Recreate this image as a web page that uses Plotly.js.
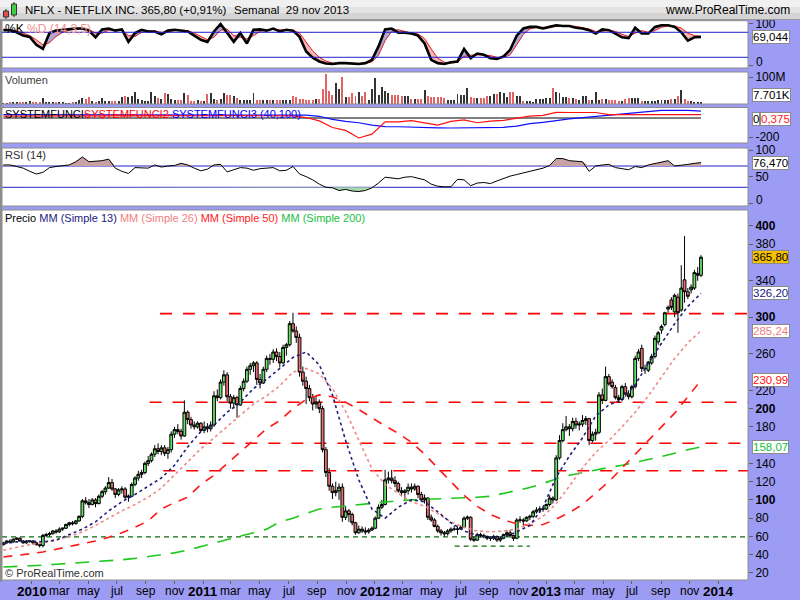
<!DOCTYPE html>
<html>
<head>
<meta charset="utf-8">
<script src="https://cdn.plot.ly/plotly-3.0.1.min.js"></script>
<style>
html,body{margin:0;padding:0;background:#9c9cf4;overflow:hidden}
#chart{width:800px;height:600px}
</style>
</head>
<body>
<div id="chart"></div>
<script>
// ---------- weekly price data (NFLX, from 2009-11-02, one candle per week) ----------
const open = [51,53,55,54,57,58,55,53,55,
55,53,51,50,61,62,63,66,65,68,69,73,75,74,77,82,99,97,95,100,96,104,109,113,119,112,106,111,112,103,104,117,124,128,130,140,143,150,156,153,157,151,155,172,177,175,170,196,188,182,180,184,
176,180,178,182,214,212,229,237,213,206,212,204,222,230,243,247,250,232,228,243,255,254,262,257,250,267,270,293,285,278,240,230,222,212,205,207,200,155,130,115,108,110,114,81,88,84,75,64,68,66,65,67,
69,80,92,95,122,124,121,118,110,108,110,114,112,115,106,100,102,81,78,71,66,64,63,66,68,68,68,70,80,81,57,56,62,61,60,58,58,60,56,58,62,64,61,58,78,78,77,81,82,87,89,90,90,
95,102,100,146,165,177,180,178,186,182,183,187,189,165,172,174,215,209,235,229,223,212,210,224,216,213,224,255,266,244,242,250,257,273,286,292,309,319,306,322,308,341,328,330,332,346,346];
const high = [54,56,57,58,59,59,56,56,56,
56,54,52,63,64,65,67,68,70,70,74,76,77,78,83,101,103,101,102,102,106,111,115,125,123,113,113,115,114,106,119,126,132,133,142,148,152,160,162,160,160,158,175,180,183,178,209,198,191,186,186,185,
186,184,186,219,221,232,242,240,216,215,214,225,233,246,250,252,252,238,246,258,260,265,266,262,270,272,296,305,290,282,246,235,226,216,214,210,203,158,135,118,120,118,118,93,90,86,76,72,71,70,69,71,
82,95,100,133,131,133,126,120,114,112,118,118,118,116,109,106,103,84,80,73,68,66,68,70,72,71,72,82,83,82,60,64,64,63,61,60,62,61,59,63,67,67,62,80,82,80,82,84,89,92,93,92,96,
105,104,149,171,184,192,183,190,190,186,193,192,190,175,178,218,222,246,238,232,226,215,226,228,220,226,258,265,270,248,252,260,280,285,292,306,313,322,326,326,357,389,332,336,352,355,368];
const low = [50,52,53,53,56,54,52,52,53,
51,50,48,48,59,60,62,63,64,66,68,71,72,73,76,80,95,91,94,92,95,102,106,112,110,102,104,107,100,98,103,115,121,124,128,137,141,147,150,149,148,145,152,168,172,166,169,183,178,177,178,174,
173,174,175,180,208,210,225,208,200,200,190,203,219,228,237,240,226,222,227,240,248,250,252,245,249,258,268,283,272,235,225,205,208,198,200,195,152,125,110,101,104,100,76,78,76,72,62,63,64,62,63,66,
68,79,90,94,118,118,114,108,104,100,106,108,110,102,98,96,78,76,70,64,61,60,61,64,66,62,67,69,78,55,54,55,59,58,56,55,56,54,54,57,60,60,55,57,75,72,76,78,80,85,86,87,89,
93,96,99,144,163,175,170,175,178,176,180,182,160,163,165,172,205,208,225,222,210,206,208,213,210,211,222,252,240,238,240,248,255,270,282,290,305,308,300,283,306,316,320,326,330,340,344];
const close = [53,55,54,57,58,55,53,55,55,
53,51,50,61,62,63,66,65,68,69,73,75,74,77,82,99,97,95,100,96,104,109,113,119,112,106,111,112,103,104,117,124,128,130,140,143,150,156,153,157,151,155,172,177,175,170,196,188,182,180,184,176,
180,178,182,214,212,229,237,213,206,212,204,222,230,243,247,250,232,228,243,255,254,262,257,250,267,270,293,285,278,240,230,222,212,205,207,200,155,130,115,108,110,114,81,88,84,75,64,68,66,65,67,69,
80,92,95,122,124,121,118,110,108,110,114,112,115,106,100,102,81,78,71,66,64,63,66,68,68,68,70,80,81,57,56,62,61,60,58,58,60,56,58,62,64,61,58,78,78,77,81,82,87,89,90,90,95,
102,100,146,165,177,180,178,186,182,183,187,189,165,172,174,215,209,235,227,224,212,210,224,216,213,224,255,262,244,244,251,257,277,283,290,305,311,311,324,305,332,328,323,333,349,348,365.8];
// weekly volume, millions
const volume = [5,5,6,7,6,6,7,8,12,7,8,6,22,7,6,6,6,8,9,5,5,6,6,14,23,17,27,10,8,12,22,12,12,11,10,11,26,28,27,30,
46,18,16,11,10,43,30,22,18,40,36,18,15,15,15,42,35,12,11,13,12,11,36,40,17,15,18,42,35,32,30,23,15,14,15,15,40,15,14,13,
14,15,16,15,15,13,14,16,30,25,18,17,15,14,15,20,20,54,110,48,35,77,56,99,27,25,40,30,46,30,43,15,56,95,35,64,48,40,35,33,
33,31,31,30,18,18,18,18,52,30,27,27,27,27,22,15,15,15,36,33,33,58,25,23,23,23,23,31,31,36,36,46,40,25,43,43,31,31,12,12,
12,9,18,18,18,23,23,58,46,40,27,27,21,21,18,15,31,31,15,15,43,15,18,18,15,15,15,12,12,20,21,21,21,21,12,12,12,12,12,15,
15,15,15,18,18,30,52,18,12,12,9,8,7.7];
// indicators, one value every 2 weeks
const stochK = [85,85,80,72,69,50,40,78,84,86,87,89,89,84,68,87,89,84,87,57,78,86,82,82,75,84,86,84,82,72,
62,57,82,100,79,57,78,53,86,87,84,89,82,86,84,69,34,19,10,5,4,6,6,5,4,6,14,46,87,89,
79,79,77,72,53,14,6,4,8,10,40,18,29,26,18,16,22,38,72,89,93,93,89,93,97,95,95,91,89,85,
77,87,85,77,68,66,91,77,77,93,97,97,93,80,60,68,69.04];
const stochD = [88,86,84,78,72,62,50,55,70,80,85,87,88,87,78,78,85,87,86,72,70,80,83,83,80,80,84,85,84,78,
70,62,68,85,88,72,68,64,72,82,86,87,86,85,85,78,55,35,20,11,6,5,6,6,5,5,9,25,60,82,
86,82,78,76,65,40,18,8,6,8,22,25,26,26,24,20,19,26,50,75,88,92,92,92,94,95,95,94,91,88,
82,82,85,82,75,70,78,84,80,84,92,95,95,90,78,72,70];
const rsi = [72,72,69,66,60,55,58,67,69,70,72,78,87,78,79,80,83,66,60,56,67,66,66,72,68,70,71,75,72,66,
61,64,72,73,59,63,67,66,62,65,66,67,61,62,69,55,50,44,36,30,29,24,26,23,22,24,29,38,49,47,
46,49,50,47,44,36,32,31,31,45,44,33,38,39,37,42,47,51,54,57,59,62,66,71,84,84,80,79,78,60,
70,72,73,67,65,63,69,67,72,75,78,80,70,71,73,75,76.47];
// one value every 4 weeks
const sysRed = [20,20,20,18,18,20,20,18,17,18,20,20,22,22,22,22,24,24,25,25,25,25,22,5,-30,-100,-130,-210,-170,-40,
-40,-28,-50,-75,-35,-20,-50,-33,-25,-5,20,28,60,58,55,58,35,35,35,35,35,32,28,35];
const sysBlue = [35,35,35,35,35,35,35,35,35,35,35,35,35,35,35,35,35,35,35,35,35,35,35,30,18,-15,-35,-50,-75,-90,
-92,-98,-100,-103,-105,-103,-100,-100,-98,-85,-60,-45,-25,-10,5,18,30,45,60,72,80,80,80,72];
const sma13 = [52,54,55,54,56,62,68,76,88,98,106,115,124,138,158,175,182,196,207,222,232,244,256,262,248,215,165,122,90,80,
92,100,98,87,75,66,61,59,59,65,72,92,125,148,168,192,204,210,226,250,271,293,312,326.2];
const sma26 = [45,48,51,53,56,60,65,72,80,88,95,103,113,127,141,156,168,180,193,205,214,225,240,244,238,222,197,165,134,117,
107,98,93,85,76,70,66,65,66,68,74,82,96,115,135,152,165,180,196,214,235,255,272,285.24];
const sma50 = [37.5,39,41,43,46,49,52,55,59,64,70,77,90,97,103,117,127,140,153,166,178,187,200,210,215,213,207,199,190,181,
173,163,150,135,120,105,93,84,78,74,72,73,79,86,95,107,120,135,150,165,180,195,213,230.99];
const sma200 = [26.5,27,27.6,28.5,29.5,30.5,31.2,32,33,34.5,36,38,40,42,45,49,53,57,60.5,64,68,76,80,85,90,92,93.5,95,96.5,98,
99,100,100.5,101,102,102.5,103,104,107,110,113.5,118,123,127,130,132.5,135.5,138,141,144,147.5,151,155,158.07];
// horizontal levels
const resLevels = [304, 207, 162, 132];
const resStart = ['2010-10-01', '2010-09-09', '2010-11-05', '2010-10-08'];
const supLevels = [59.5, 49.5];
const supStart = ['2009-10-30', '2012-06-19'];
const supEnd = ['2014-03-05', '2012-11-26'];
// axis labels
const xTickVals = ['2010-01-01','2010-03-01','2010-05-01','2010-07-01','2010-09-01','2010-11-01',
'2011-01-01','2011-03-01','2011-05-01','2011-07-01','2011-09-01','2011-11-01',
'2012-01-01','2012-03-01','2012-05-01','2012-07-01','2012-09-01','2012-11-01',
'2013-01-01','2013-03-01','2013-05-01','2013-07-01','2013-09-01','2013-11-01','2014-01-01'];
const xTickText = ['2010','mar','may','jul','sep','nov','2011','mar','may','jul','sep','nov',
'2012','mar','may','jul','sep','nov','2013','mar','may','jul','sep','nov','2014'];
// price labels left visible beside the value boxes
const priceTicks = [20,40,60,80,100,120,140,180,200,220,260,300,340,380,400];

// ---------- build ----------
const F = 'Liberation Sans, Arial, sans-serif';
const H = 600, W = 800;
const py = v => 1 - v / H;
const pxx = v => v / W;
const DAY = 864e5;
const dates = close.map((_, i) => new Date(Date.UTC(2009, 10, 2) + i * 7 * DAY).toISOString().slice(0, 10));
const dates2 = dates.filter((_, i) => i % 2 === 0);
const dates4 = dates.filter((_, i) => i % 4 === 0);
const X0 = '2009-10-30', X1 = '2014-03-05';

const traces = [];
const L = (o) => Object.assign({type: 'scatter', mode: 'lines', hoverinfo: 'skip', showlegend: false}, o);

// stochastic
const kHi = stochK.map((k, i) => Math.max(k, stochD[i]));
const kLo = stochK.map((k, i) => Math.min(k, stochD[i]));
traces.push(L({x: dates2, y: stochD, yaxis: 'y5', line: {width: 0}}));
traces.push(L({x: dates2, y: kHi, yaxis: 'y5', line: {width: 0}, fill: 'tonexty', fillcolor: '#aaaad8'}));
traces.push(L({x: dates2, y: stochD, yaxis: 'y5', line: {width: 0}}));
traces.push(L({x: dates2, y: kLo, yaxis: 'y5', line: {width: 0}, fill: 'tonexty', fillcolor: '#f2b8b8'}));
traces.push(L({x: dates2, y: stochD, yaxis: 'y5', line: {color: '#e81818', width: 1}}));
traces.push(L({x: dates2, y: stochK, yaxis: 'y5', line: {color: '#000', width: 2.6}}));

// volume
const volColor = close.map((c, i) => c >= open[i] ? '#333333' : '#e06464');
traces.push({type: 'bar', x: dates, y: volume, yaxis: 'y4', marker: {color: volColor, line: {width: 0}},
  width: 4.2 * DAY, hoverinfo: 'skip', showlegend: false});

// system functions
traces.push(L({x: [dates[0], dates[dates.length - 1]], y: [0, 0], yaxis: 'y3', line: {color: '#000', width: 1}}));
traces.push(L({x: dates4, y: sysBlue, yaxis: 'y3', line: {color: '#1010ff', width: 1.2}}));
traces.push(L({x: dates4, y: sysRed, yaxis: 'y3', line: {color: '#ff1010', width: 1.2}}));

// RSI
const rHi = rsi.map(v => Math.max(v, 70)), rLo = rsi.map(v => Math.min(v, 30));
traces.push(L({x: dates2, y: rsi.map(() => 70), yaxis: 'y2', line: {width: 0}}));
traces.push(L({x: dates2, y: rHi, yaxis: 'y2', line: {width: 0}, fill: 'tonexty', fillcolor: '#c9a3a3'}));
traces.push(L({x: dates2, y: rsi.map(() => 30), yaxis: 'y2', line: {width: 0}}));
traces.push(L({x: dates2, y: rLo, yaxis: 'y2', line: {width: 0}, fill: 'tonexty', fillcolor: '#a8d8a8'}));
traces.push(L({x: dates2, y: rsi, yaxis: 'y2', line: {color: '#000', width: 1}}));

// moving averages
traces.push(L({x: dates4, y: sma200, yaxis: 'y', line: {color: '#1ec81e', width: 1.6, dash: '14px,10px'}}));
traces.push(L({x: dates4, y: sma50, yaxis: 'y', line: {color: '#ff1a1a', width: 1.6, dash: '9px,8px'}}));
traces.push(L({x: dates4, y: sma26, yaxis: 'y', line: {color: '#f08a8a', width: 1.6, dash: '3px,3px'}}));
traces.push(L({x: dates4, y: sma13, yaxis: 'y', line: {color: '#20207a', width: 1.6, dash: '3px,3px'}}));

// candles
traces.push({type: 'candlestick', x: dates, open: open, high: high, low: low, close: close, yaxis: 'y',
  increasing: {line: {color: '#000', width: 1}, fillcolor: '#66e066'},
  decreasing: {line: {color: '#000', width: 1}, fillcolor: '#e87070'},
  whiskerwidth: 0, hoverinfo: 'skip', showlegend: false});

// ---------- layout ----------
const yBase = {anchor: 'x', side: 'right', ticks: 'outside', ticklen: 4, tickcolor: '#606060', showgrid: false,
  zeroline: false, showline: false, fixedrange: true, tickfont: {family: F, size: 12, color: '#000'}};
const dom = (top, bot) => [py(bot), py(top)];

const shapes = [];
// header
shapes.push({type: 'rect', xref: 'paper', yref: 'paper', x0: 0, x1: 1, y0: py(7), y1: 1, fillcolor: '#f0f0f0', line: {width: 0}});
shapes.push({type: 'rect', xref: 'paper', yref: 'paper', x0: 0, x1: 1, y0: py(13), y1: py(7), fillcolor: '#e3e3e3', line: {width: 0}});
shapes.push({type: 'rect', xref: 'paper', yref: 'paper', x0: 0, x1: 1, y0: py(19), y1: py(13), fillcolor: '#d4d4d4', line: {width: 0}});
shapes.push({type: 'line', xref: 'paper', yref: 'paper', x0: 0, x1: 1, y0: py(19.5), y1: py(19.5), line: {color: '#9a9a9a', width: 1}});
// header icon
shapes.push({type: 'line', xref: 'paper', yref: 'paper', x0: pxx(6), x1: pxx(6), y0: py(9), y1: py(19), line: {color: '#333', width: 1}});
shapes.push({type: 'rect', xref: 'paper', yref: 'paper', x0: pxx(3.5), x1: pxx(8.5), y0: py(17), y1: py(11), fillcolor: '#e05050', line: {color: '#333', width: 1}});
shapes.push({type: 'line', xref: 'paper', yref: 'paper', x0: pxx(14), x1: pxx(14), y0: py(2), y1: py(17), line: {color: '#333', width: 1}});
shapes.push({type: 'rect', xref: 'paper', yref: 'paper', x0: pxx(11.5), x1: pxx(16.5), y0: py(15), y1: py(4), fillcolor: '#44cc44', line: {color: '#333', width: 1}});
// left frame
shapes.push({type: 'rect', xref: 'paper', yref: 'paper', x0: 0, x1: pxx(2), y0: py(582), y1: py(20), fillcolor: '#8c8c8c', line: {width: 0}});
// panel frames
[[20.7, 68], [72, 104], [107.5, 143], [148, 206], [210, 580]].forEach(([t, b]) => {
  shapes.push({type: 'rect', xref: 'paper', yref: 'paper', x0: pxx(2), x1: pxx(748), y0: py(b), y1: py(t),
    line: {color: '#8c8c8c', width: 1}, fillcolor: 'rgba(0,0,0,0)'});
});
// oscillator guide lines
[80, 20].forEach(v => shapes.push({type: 'line', xref: 'paper', yref: 'y5', x0: pxx(2), x1: pxx(748), y0: v, y1: v, line: {color: '#2020c8', width: 1}}));
[70, 30].forEach(v => shapes.push({type: 'line', xref: 'paper', yref: 'y2', x0: pxx(2), x1: pxx(748), y0: v, y1: v, line: {color: '#2020c8', width: 1}, layer: 'below'}));
// price levels
resLevels.forEach((v, i) => shapes.push({type: 'line', xref: 'x', yref: 'y', x0: resStart[i], x1: X1, y0: v, y1: v,
  line: {color: '#ff0000', width: 1.6, dash: '12px,11px'}, layer: 'below'}));
supLevels.forEach((v, i) => shapes.push({type: 'line', xref: 'x', yref: 'y', x0: supStart[i], x1: supEnd[i], y0: v, y1: v,
  line: {color: '#0a6e0a', width: 1.2, dash: '5px,4px'}, layer: 'below'}));

const ann = [];
const txt = (x, y, text, size, color, anchor) => ann.push({xref: 'paper', yref: 'paper', x: pxx(x), y: py(y), text: text,
  showarrow: false, xanchor: anchor || 'left', yanchor: 'middle', font: {family: F, size: size, color: color || '#000'}});
txt(23, 10, 'NFLX - NETFLIX INC.', 11.5);
txt(139, 10, '365,80 (+0,91%)', 11.5);
txt(232, 10, 'Semanal&nbsp;&nbsp;29 nov 2013', 11.5);
txt(792, 10, 'www.ProRealTime.com', 12, '#000', 'right');
txt(3, 29, '<span style="color:#000">%K</span> <span style="color:#f09090">%D (14,3,5)</span>', 12);
txt(3, 79.5, 'Volumen', 11, '#404040');
txt(3, 114.5, '<span style="color:#000">SYSTEMFUNCI</span><span style="color:#ff0000">SYSTEMFUNCI2</span> <span style="color:#0000ff">SYSTEMFUNCI3 (40,100)</span>', 11);
txt(3, 155, 'RSI (14)', 11, '#303030');
txt(3, 218, 'Precio <span style="color:#202080">MM (Simple 13)</span> <span style="color:#f08080">MM (Simple 26)</span> <span style="color:#ff2020">MM (Simple 50)</span> <span style="color:#20c040">MM (Simple 200)</span>', 11);
txt(3, 572.5, '© ProRealTime.com', 11, '#303030');
// bottom "0" labels of the oscillators, lifted inside their panels
txt(754, 61.5, '0', 12);
txt(754, 199.5, '0', 12);
// x-axis labels (years bold)
xTickVals.forEach((d, i) => {
  const yr = /^\d{4}$/.test(xTickText[i]);
  ann.push({xref: 'x', yref: 'paper', x: d, y: py(591), text: yr ? '<b>' + xTickText[i] + '</b>' : xTickText[i],
    showarrow: false, xanchor: 'center', yanchor: 'middle', font: {family: F, size: yr ? 13.5 : 12, color: '#000'}});
});

const box = (yref, y, text, color, bg, x) => ann.push({xref: 'paper', x: pxx(x || 752), xanchor: 'left', yref: yref, y: y, yanchor: 'middle',
  text: text, showarrow: false, bgcolor: bg || '#ffffff', bordercolor: '#8a8a8a', borderwidth: 1, borderpad: 0,
  font: {family: F, size: 11.5, color: color}});
box('y5', 69.044, '69,044', '#000');
box('paper', py(95), '7.701K', '#000');
box('paper', py(118.5), '0', '#000');
box('paper', py(118.5), '0,375', '#ff2020', '#ffffff', 760);
box('y2', 76.47, '76,470', '#000');
box('y', 365.8, '365,80', '#000', '#f5c000');
box('y', 326.2, '326,20', '#202080');
box('y', 285.24, '285,24', '#f08080');
box('y', 230.99, '230,99', '#ff1010');
box('y', 158.07, '158,07', '#10c040');

const layout = {
  width: W, height: H, margin: {l: 0, r: 0, t: 0, b: 0},
  paper_bgcolor: '#9c9cf4', plot_bgcolor: '#ffffff', showlegend: false, bargap: 0, boxgap: 0.15, boxgroupgap: 0,
  font: {family: F},
  xaxis: {domain: [pxx(2), pxx(748)], type: 'date', range: [X0, X1], anchor: 'y', tickvals: xTickVals,
    showticklabels: false, ticks: 'outside', ticklen: 3, tickcolor: '#606060',
    showgrid: false, zeroline: false, showline: false, fixedrange: true, rangeslider: {visible: false}},
  yaxis: Object.assign({}, yBase, {domain: dom(210, 580), range: [12.3, 417.5], tickvals: priceTicks,
    ticktext: priceTicks.map(v => v % 100 === 0 ? '<b>' + v + '</b>' : String(v))}),
  yaxis2: Object.assign({}, yBase, {domain: dom(148, 206), range: [-5.1, 103.8], tickvals: [0, 50, 100], ticktext: ['', '50', '100']}),
  yaxis3: Object.assign({}, yBase, {domain: dom(107.5, 143), range: [-263, 110.5], tickvals: [-200], ticktext: ['-200']}),
  yaxis4: Object.assign({}, yBase, {domain: dom(72, 104), range: [0, 118.5], tickvals: [100], ticktext: ['100M']}),
  yaxis5: Object.assign({}, yBase, {domain: dom(20.7, 68), range: [-5.7, 107.8], tickvals: [0, 100], ticktext: ['', '100']}),
  shapes: shapes, annotations: ann
};

Plotly.newPlot('chart', traces, layout, {displayModeBar: false, staticPlot: true});
</script>
</body>
</html>
